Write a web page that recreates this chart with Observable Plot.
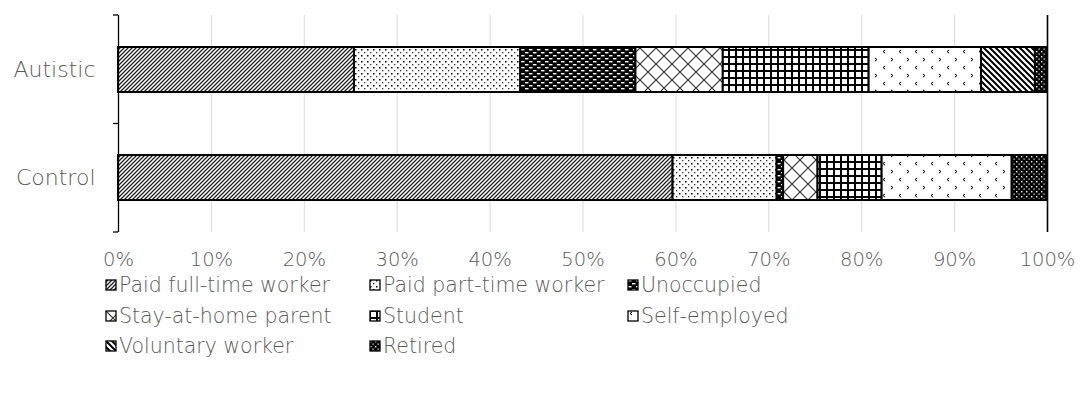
<!DOCTYPE html>
<html><head><meta charset="utf-8">
<script src="https://cdn.jsdelivr.net/npm/d3@7"></script>
<script src="https://cdn.jsdelivr.net/npm/@observablehq/plot@0.6"></script>
<style>
body{margin:0;background:#fff;}
#chart svg{display:block;font-family:"DejaVu Sans",sans-serif;font-weight:300;}
#legend{display:grid;grid-template-columns:264px 258px 258px;padding-left:105px;margin-top:-8px;font-family:"DejaVu Sans",sans-serif;font-weight:300;font-size:20.5px;color:#595959;position:relative;}
#legend .item{display:flex;align-items:center;height:30.5px;white-space:nowrap;}
#legend svg{margin-right:2px;flex:none;}
</style></head><body><div id="chart"></div><div id="legend"></div>
<script>
const groups = ["Autistic", "Control"];
const occupations = ["Paid full-time worker", "Paid part-time worker", "Unoccupied", "Stay-at-home parent", "Student", "Self-employed", "Voluntary worker", "Retired"];
const autisticPct = [25.4, 17.9, 12.4, 9.4, 15.7, 12.1, 5.8, 1.3];
const controlPct = [59.7, 11.2, 0.7, 3.7, 6.9, 14.0, 0, 3.8];
const xTicks = [0, 10, 20, 30, 40, 50, 60, 70, 80, 90, 100];

const patternDefs = [
  `<pattern id="pat0" width="4" height="4" patternUnits="userSpaceOnUse"><rect width="4" height="4" fill="#fff"/><path d="M-1,1 l2,-2 M0,4 l4,-4 M3,5 l2,-2" stroke="#222" stroke-width="1.3"/></pattern>`,
  `<pattern id="pat1" width="6" height="6" patternUnits="userSpaceOnUse"><rect width="6" height="6" fill="#fff"/><rect x="1" y="1" width="1.5" height="1.5" fill="#000"/><rect x="4" y="4" width="1.3" height="1.3" fill="#333"/></pattern>`,
  `<pattern id="pat2" width="8" height="6" patternUnits="userSpaceOnUse"><rect width="8" height="6" fill="#000"/><rect x="1" y="1" width="3.5" height="1.4" fill="#fff"/><rect x="5" y="4" width="3.5" height="1.4" fill="#fff"/><rect x="-3" y="4" width="3.5" height="1.4" fill="#fff"/></pattern>`,
  `<pattern id="pat3" width="16" height="16" patternUnits="userSpaceOnUse"><rect width="16" height="16" fill="#fff"/><path d="M0,0 L16,16 M16,0 L0,16" stroke="#333" stroke-width="1.2"/></pattern>`,
  `<pattern id="pat4" width="7" height="7" patternUnits="userSpaceOnUse"><rect width="7" height="7" fill="#fff"/><path d="M0,1 H7 M1,0 V7" stroke="#000" stroke-width="2"/></pattern>`,
  `<pattern id="pat5" width="16" height="16" patternUnits="userSpaceOnUse"><rect width="16" height="16" fill="#fff"/><path d="M5,2 l-2,1.5 l2,1.5 M11,10 l2,1.5 l-2,1.5" stroke="#000" stroke-width="1" fill="none"/></pattern>`,
  `<pattern id="pat6" width="6" height="6" patternUnits="userSpaceOnUse"><rect width="6" height="6" fill="#fff"/><path d="M0,0 L6,6 M-3,3 L3,9 M3,-3 L9,3" stroke="#000" stroke-width="2"/></pattern>`,
  `<pattern id="pat7" width="5" height="5" patternUnits="userSpaceOnUse"><rect width="5" height="5" fill="#000"/><rect x="1" y="1" width="1.4" height="1.4" fill="#fff"/><rect x="3.5" y="3.5" width="1.2" height="1.2" fill="#fff"/></pattern>`
];

const data = [];
groups.forEach((g, gi) => {
  const vals = gi === 0 ? autisticPct : controlPct;
  occupations.forEach((o, i) => data.push({group: g, occupation: o, idx: i, value: vals[i]}));
});

const plot = Plot.plot({
  width: 1085,
  height: 278,
  marginLeft: 118,
  marginRight: 38,
  marginTop: 15,
  marginBottom: 46,
  style: {fontSize: "19.5px", color: "#595959", background: "#fff"},
  x: {domain: [0, 100], ticks: xTicks, tickFormat: d => d + "%", label: null},
  y: {domain: groups, paddingInner: 0.585, paddingOuter: 0.2925, label: null},
  color: {type: "identity"},
  marks: [
    Plot.ruleX(xTicks, {x: d => d, stroke: "#d9d9d9", strokeWidth: 1}),
    Plot.barX(data, Plot.stackX({x: "value", y: "group", fill: d => `url(#pat${d.idx})`, stroke: "#000", strokeWidth: 2})),
    Plot.ruleX([0], {stroke: "#000", strokeWidth: 1.3}),
    Plot.ruleX([100], {stroke: "#000", strokeWidth: 1.6}),
    Plot.axisX({ticks: xTicks, tickSize: 0, tickPadding: 20, tickFormat: d => d + "%", fill: "#595959", fontSize: 19.5, label: null}),
    Plot.axisY({tickSize: 0, tickPadding: 23, fill: "#595959", fontSize: 22, label: null})
  ]
});

const svg = d3.select(plot.tagName === "svg" ? plot : plot.querySelector("svg"));
svg.insert("defs", ":first-child").html(patternDefs.join(""));

// category boundary ticks on the left axis, derived from the y band scale
const ys = plot.scale("y");
const xs = plot.scale("x");
const x0 = xs.apply(0);
const [r0, r1] = ys.range;
const n = ys.domain.length;
const bounds = d3.range(n + 1).map(i => r0 + (r1 - r0) * i / n);
svg.append("g").selectAll("line").data(bounds).join("line")
  .attr("x1", x0 - 5).attr("x2", x0).attr("y1", d => d).attr("y2", d => d)
  .attr("stroke", "#000").attr("stroke-width", 1.3);

document.getElementById("chart").appendChild(plot);

const legend = d3.select("#legend");
occupations.forEach((o, i) => {
  const it = legend.append("div").attr("class", "item");
  const s = it.append("svg").attr("width", 12).attr("height", 12);
  s.append("rect").attr("x", 1).attr("y", 1).attr("width", 10).attr("height", 10)
    .attr("fill", `url(#pat${i})`).attr("stroke", "#000").attr("stroke-width", 1.3);
  it.append("span").text(o);
});
</script></body></html>
